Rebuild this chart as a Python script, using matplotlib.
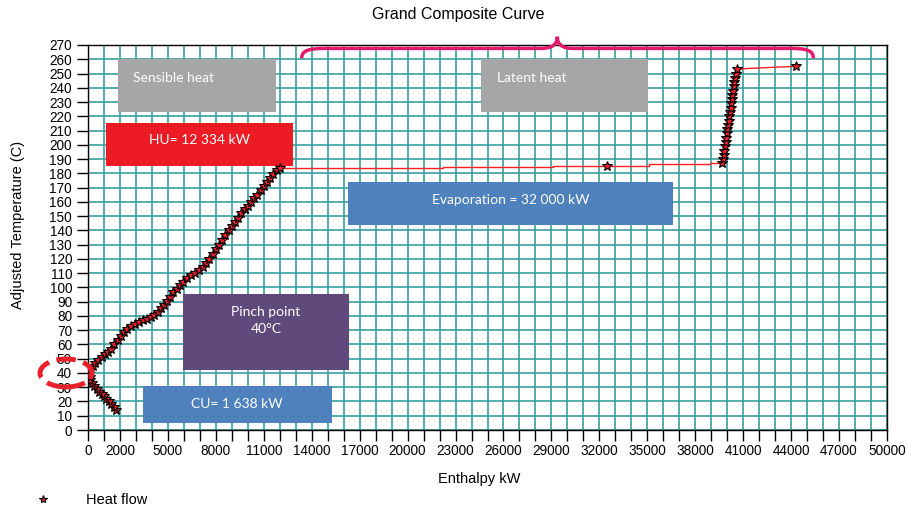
import numpy as np
import matplotlib
matplotlib.use('Agg')
import matplotlib.pyplot as plt
from matplotlib.patches import Rectangle, Ellipse, PathPatch
from matplotlib.path import Path
from matplotlib.lines import Line2D

plt.rcParams['font.family'] = ['Liberation Sans', 'DejaVu Sans']

# sensible heat branch (kW, C)
sens_x = [1750, 1600, 1450, 1300, 1150, 1000, 850, 700, 550, 400, 250, 150, 100, 80,
          150, 300, 450, 650, 850, 1050, 1250, 1450, 1650, 1850, 2050, 2250, 2450,
          2700, 2950, 3200, 3450, 3700, 3950, 4150, 4350, 4550, 4750, 4950, 5150,
          5350, 5550, 5750, 5950, 6200, 6450, 6700, 6950, 7200, 7400, 7600, 7800,
          8000, 8200, 8400, 8600, 8800, 9000, 9200, 9400, 9600, 9800, 10000, 10200,
          10400, 10600, 10800, 11000, 11200, 11400, 11600, 11800, 12000]
sens_y = [14, 16, 18, 20, 22, 24, 25.5, 27, 29, 31, 33, 35, 37, 40,
          42, 45, 47, 49, 51, 53, 55, 57, 60, 63, 66, 69, 71,
          73, 74, 75.5, 77, 78, 79.5, 81, 83, 85.5, 88, 90.5, 93.5,
          96.5, 99, 101.5, 104, 106.5, 108.5, 110, 112, 114, 117, 120, 123.5,
          127, 130, 133.5, 137, 140, 143, 146, 149, 152, 155, 157, 160,
          162.5, 165, 168, 171, 174, 177, 179.5, 182, 184]

# evaporation (latent) line
evap_x = [12000, 15300, 15300, 22200, 22200, 29100, 29100, 35100, 35100, 38900, 38900, 39700]
evap_y = [183.5, 183.5, 184, 184, 184.5, 184.5, 185, 185, 186.3, 186.3, 187.3, 187.3]
evap_mark_x = [32500]
evap_mark_y = [185]

# steep rise after evaporation
steep_x = [39700, 39740, 39780, 39820, 39860, 39900, 39930, 39970, 40010, 40050,
           40090, 40130, 40170, 40210, 40250, 40290, 40330, 40370, 40410, 40450,
           40500, 40550, 40620]
steep_y = [187, 190, 193, 196, 199, 202, 205, 208, 211, 214,
           217, 220, 223, 226, 229, 232, 235, 238, 241, 244,
           247, 250, 253]

top_x = [40620, 41200, 43200, 44300]
top_y = [253, 253.5, 254.5, 255]
top_mark_x = [44300]
top_mark_y = [255]

xtick_pos = [0, 2000, 5000, 8000, 11000, 14000, 17000, 20000, 23000, 26000, 29000,
             32000, 35000, 38000, 41000, 44000, 47000, 50000]
xtick_labels = [str(v) for v in xtick_pos]
ytick_pos = list(range(0, 271, 10))

W, H = 907, 513
fig = plt.figure(figsize=(W / 100, H / 100), dpi=100)
ax = fig.add_axes([88 / W, (H - 430) / H, (887 - 88) / W, (430 - 45) / H])

ax.set_xlim(0, 50000)
ax.set_ylim(0, 270)
ax.set_xticks(xtick_pos)
ax.set_xticklabels(xtick_labels)
ax.set_xticks(np.arange(0, 50001, 1000), minor=True)
ax.set_yticks(ytick_pos)
ax.tick_params(axis='both', which='both', direction='out', length=8, width=1,
               color='black', labelsize=9.8)
ax.tick_params(axis='x', pad=2)
ax.grid(True, which='both', color='#3a9e9e', lw=1.2)
ax.set_axisbelow(True)
for s in ax.spines.values():
    s.set_color('black')
    s.set_linewidth(1)

boxes = [
    (1900, 223, 9850, 37, '#a6a6a6', 'Sensible heat', 5380, 247),
    (24590, 223, 10450, 37, '#a6a6a6', 'Latent heat', 27780, 247),
    (1126, 185, 11684, 30.5, '#ed1c24', 'HU= 12 334 kW', 6980, 203.4),
    (16290, 144, 20300, 30, '#4f81bd', 'Evaporation = 32 000 kW', 26470, 161.3),
    (5945, 42, 10385, 53.4, '#604a7b', 'Pinch point\n40°C', 11140, 77.1),
    (3420, 5, 11830, 26, '#4f81bd', 'CU= 1 638 kW', 9300, 18.2),
]
for x0, y0, w, h, c, t, tx, ty in boxes:
    ax.add_patch(Rectangle((x0, y0), w, h, facecolor=c, edgecolor='none', zorder=2))
    ax.text(tx, ty, t, color='white', ha='center', va='center', fontsize=10,
            family=['Lato', 'DejaVu Sans'], zorder=3, linespacing=1.5)

mk = dict(marker='*', markersize=7, markerfacecolor='#e8202a', markeredgecolor='black',
          markeredgewidth=0.8)
ax.plot(evap_x, evap_y, color='#ff2020', lw=1, zorder=4)
ax.plot(top_x, top_y, color='#ff2020', lw=1, zorder=4)
ax.plot(sens_x, sens_y, color='#ff2020', lw=1, zorder=5, **mk)
ax.plot(steep_x, steep_y, color='#ff2020', lw=1, zorder=5, **mk)
ax.plot(evap_mark_x, evap_mark_y, ls='none', zorder=5, **mk)
ax.plot(top_mark_x, top_mark_y, ls='none', zorder=5, **mk)

# pink brace over the latent section
verts = [(13370, 260.7), (13370, 266), (13800, 267.6), (14800, 267.6),
         (28300, 267.6),
         (29000, 267.6), (29370, 270), (29370, 275.8),
         (29370, 270), (29700, 267.6), (30400, 267.6),
         (44000, 267.6),
         (45000, 267.6), (45390, 266), (45390, 260.7)]
codes = [Path.MOVETO, Path.CURVE4, Path.CURVE4, Path.CURVE4,
         Path.LINETO,
         Path.CURVE4, Path.CURVE4, Path.CURVE4,
         Path.CURVE4, Path.CURVE4, Path.CURVE4,
         Path.LINETO,
         Path.CURVE4, Path.CURVE4, Path.CURVE4]
ax.add_patch(PathPatch(Path(verts, codes), facecolor='none', edgecolor='#e3196c',
                       lw=2.5, clip_on=False, zorder=6))

# dashed ellipse around 40 C
fig.add_artist(Ellipse((66 / W, 1 - 373 / H), 52 / W, 28 / H, transform=fig.transFigure,
                       facecolor='none', edgecolor='#e8202a', lw=3.5,
                       linestyle=(0, (4, 1.6))))

fig.text(458 / W, 1 - 15 / H, 'Grand Composite Curve', ha='center', va='center', fontsize=11.5)
fig.text(479 / W, 1 - 479 / H, 'Enthalpy kW', ha='center', va='center', fontsize=10.5)
fig.text(18 / W, 1 - 225 / H, 'Adjusted Temperature (C)', rotation=90,
         ha='center', va='center', fontsize=10.5)

h = Line2D([], [], ls='none', marker='*', markersize=6, markerfacecolor='#e8202a',
           markeredgecolor='black', markeredgewidth=0.8)
fig.legend(handles=[h], labels=['Heat flow'], loc='center left', frameon=False,
           bbox_to_anchor=(36 / W, 1 - 500 / H), borderpad=0, borderaxespad=0,
           handlelength=1, handletextpad=2.4, fontsize=10.5)

fig.savefig('out.png', dpi=100)
